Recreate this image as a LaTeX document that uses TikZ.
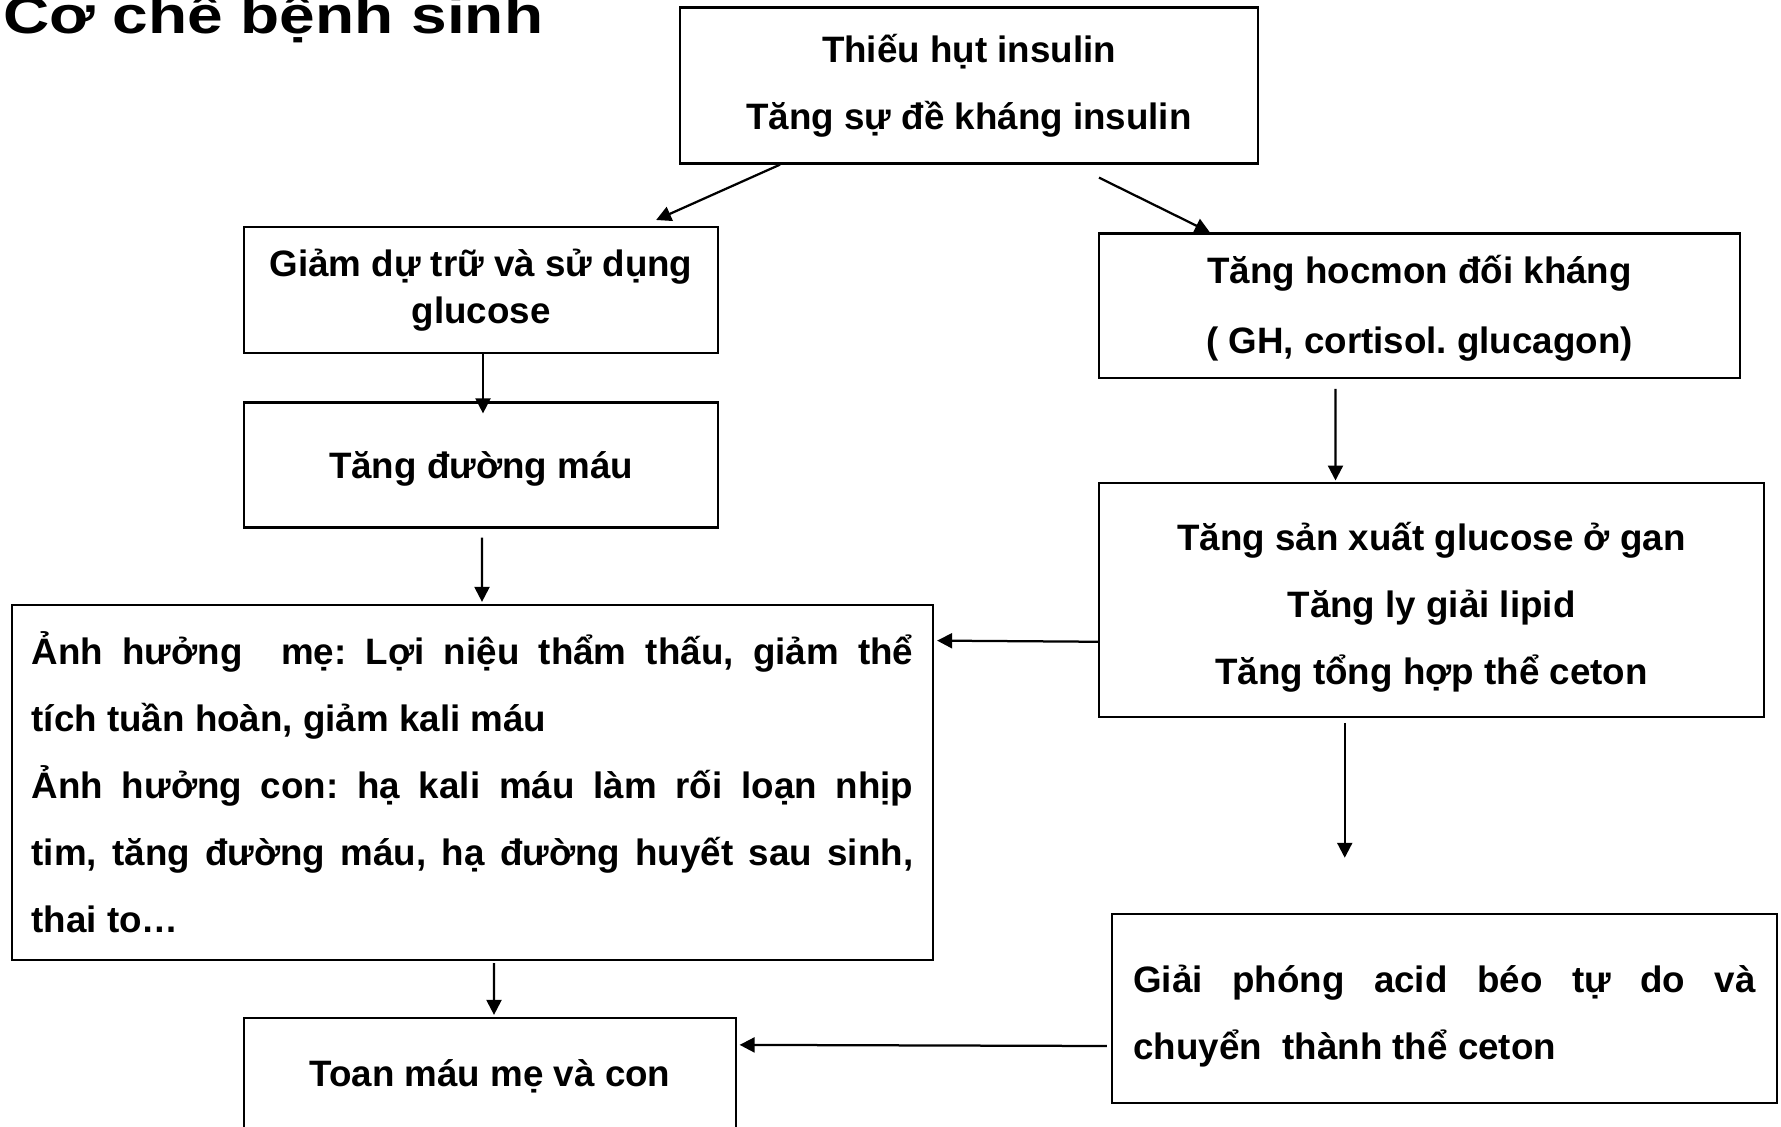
\documentclass[tikz,border=0pt]{standalone}
\usepackage{fontspec}
\setmainfont{Liberation Sans}
\usepackage{tikz}
\usetikzlibrary{positioning,arrows.meta}
\pgfdeclarelayer{nodelayer}
\pgfdeclarelayer{edgelayer}
\pgfsetlayers{main,nodelayer,edgelayer}
\tikzstyle{flowChan}=[-{Triangle[length=6pt, width=6pt]}, black, line width=0.9pt]
\tikzstyle {stage_box} = [rectangle, draw=black, line width=0.9pt, inner sep=0pt, align=center, font=\fontsize{14.7pt}{26.8pt}\selectfont\bfseries]
\tikzstyle {stage_para} = [stage_box, align=justify]
\setlength{\parindent}{0pt}
\frenchspacing

\begin{document}
\begin{tikzpicture}[x=0.4pt, y=-0.4pt]
        \useasboundingbox (0,0) rectangle (1781,1127);
        \clip (0,0) rectangle (1781,1127);
        \begin{pgfonlayer}{nodelayer}
            \node [anchor=base west, inner sep=0pt, font=\fontsize{21pt}{24pt}\selectfont\bfseries] (Title) at (2.5, 33) {\scalebox{1.22}[1]{Cơ chế bệnh sinh}};
            \node [style=stage_box, minimum width=231.2pt, minimum height=62.4pt] (Insulin) at (969, 85.5) {Thiếu hụt insulin\\Tăng sự đề kháng insulin};
            \node [style=stage_box, minimum width=189.6pt, minimum height=50.3pt, font=\fontsize{14.7pt}{18.8pt}\selectfont\bfseries] (Glucose) at (481, 290) {Giảm dự trữ và sử dụng\\glucose};
            \node [style=stage_box, minimum width=256.4pt, minimum height=57.7pt, font=\fontsize{14.7pt}{28.2pt}\selectfont\bfseries] (Hormone) at (1419.5, 305.6) {\rule{0pt}{13.3pt}Tăng hocmon đối kháng\\( GH, cortisol. glucagon)};
            \node [style=stage_box, minimum width=189.6pt, minimum height=50pt] (BloodSugar) at (481, 465) {\rule{0pt}{14.2pt}Tăng đường máu};
            \node [style=stage_box, minimum width=266pt, minimum height=93.5pt] (Liver) at (1431.5, 600) {\rule{0pt}{16.8pt}Tăng sản xuất glucose ở gan\\Tăng ly giải lipid\\Tăng tổng hợp thể ceton};
            \node [style=stage_para, text width=352.6pt, minimum width=368.4pt, minimum height=142pt] (Effects) at (472.5, 782.5) {Ảnh hưởng\ \ mẹ: Lợi niệu thẩm thấu, giảm thể\linebreak tích tuần hoàn, giảm kali máu\par Ảnh hưởng con: hạ kali máu làm rối loạn nhịp\linebreak tim, tăng đường máu, hạ đường huyết sau sinh,\linebreak thai to…};
            \node [style=stage_para, text width=248.9pt, minimum width=266pt, minimum height=75.6pt] (FattyAcid) at (1444.5, 1008.5) {\rule{0pt}{17.1pt}Giải phóng acid béo tự do và\linebreak chuyển\ \ thành thể ceton};
            \node [style=stage_box, minimum width=196.8pt, minimum height=46.4pt] (Acidosis) at (490, 1076) {Toan máu mẹ và con};
            \coordinate (Ketone) at ([xshift=-34.7pt, yshift=-55.9pt]Liver.south);
        \end{pgfonlayer}
        \begin{pgfonlayer}{edgelayer}
            %Left branch
            \draw [style=flowChan] ([xshift=-75.6pt]Insulin.south) to ([xshift=-25.2pt, yshift=2.4pt]Glucose.north east);
            \draw [style=flowChan] ([xshift=0.8pt]Glucose.south) to ([xshift=0.8pt, yshift=-4.8pt]BloodSugar.north);
            \draw [style=flowChan] ([xshift=0.4pt, yshift=-3.6pt]BloodSugar.south) to ([xshift=3.8pt, yshift=0.8pt]Effects.north);
            \draw [style=flowChan] ([xshift=8.6pt, yshift=-0.8pt]Effects.south) to ([xshift=1.6pt, yshift=0.8pt]Acidosis.north);

            %Right branch
            \draw [style=flowChan] ([xshift=52pt, yshift=-5.2pt]Insulin.south) to ([xshift=44.8pt]Hormone.north west);
            \draw [style=flowChan] ([xshift=-33.6pt, yshift=-4pt]Hormone.south) to ([xshift=-38.4pt, yshift=0.6pt]Liver.north);
            \draw [style=flowChan] ([xshift=-34.7pt, yshift=-1.9pt]Liver.south) to (Ketone);

            %Across
            \draw [style=flowChan] ([yshift=-16.7pt]Liver.west) to ([xshift=1.2pt, yshift=-14.7pt]Effects.north east);
            \draw [style=flowChan] ([xshift=-1.6pt, yshift=-15pt]FattyAcid.west) to ([xshift=1pt, yshift=-11.2pt]Acidosis.north east);
        \end{pgfonlayer}
    \end{tikzpicture}
\end{document}
